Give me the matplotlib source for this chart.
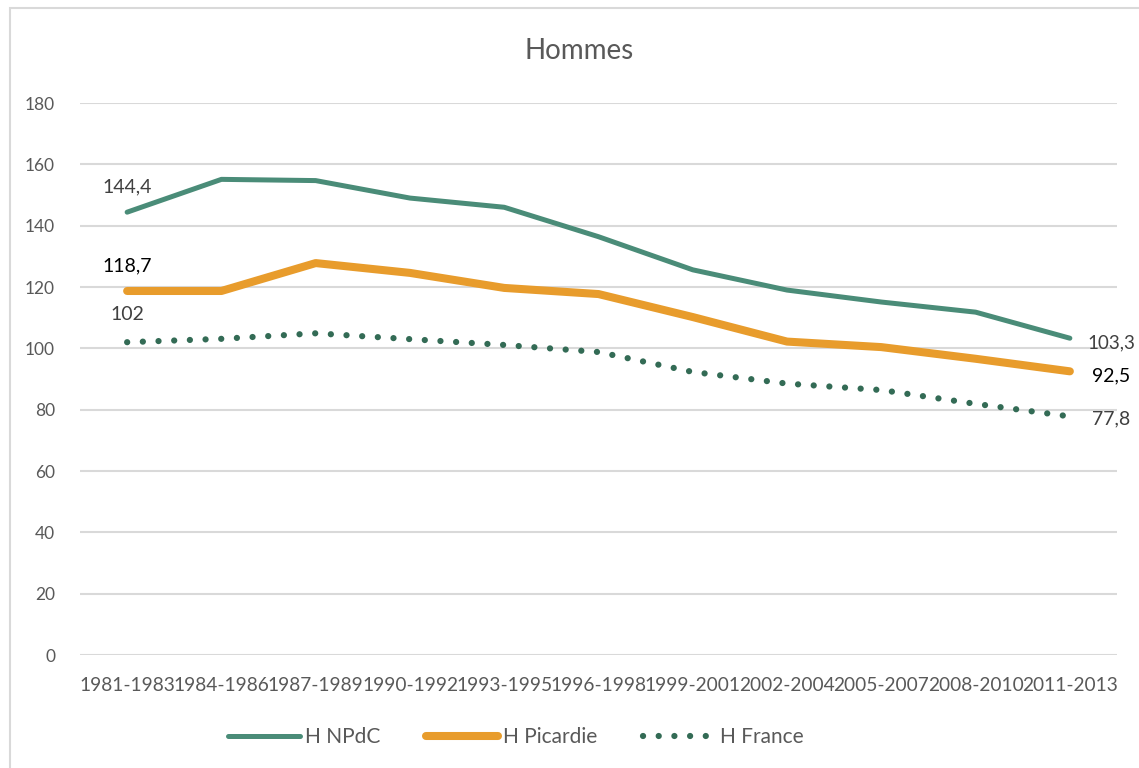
import matplotlib
matplotlib.use("Agg")
import matplotlib.pyplot as plt
from matplotlib.patches import Rectangle

# Data
periods = ["1981-1983", "1984-1986", "1987-1989", "1990-1992", "1993-1995",
           "1996-1998", "1999-2001", "2002-2004", "2005-2007", "2008-2010",
           "2011-2013"]
h_npdc = [144.4, 155.1, 154.7, 149.0, 146.0, 136.4, 125.6, 119.0, 115.1, 111.8, 103.3]
h_picardie = [118.7, 118.7, 127.8, 124.6, 119.7, 117.7, 110.2, 102.2, 100.4, 96.6, 92.5]
h_france = [102.0, 103.1, 104.9, 103.0, 101.1, 98.8, 92.3, 88.5, 86.4, 81.9, 77.8]
yticks = [0, 20, 40, 60, 80, 100, 120, 140, 160, 180]

c_npdc = "#4a8c78"
c_pic = "#e89c2c"
c_fr = "#336b55"
grey = "#595959"

plt.rcParams["font.family"] = ["Lato", "DejaVu Sans"]

fig = plt.figure(figsize=(11.39, 7.68), dpi=100)
ax = fig.add_axes([80 / 1139, 1 - 655 / 768, 1037 / 1139, 552 / 768])

x = list(range(len(periods)))
ax.plot(x, h_npdc, color=c_npdc, lw=3.6, solid_capstyle="round",
        solid_joinstyle="round", label="H NPdC")
ax.plot(x, h_picardie, color=c_pic, lw=5.8, solid_capstyle="round",
        solid_joinstyle="round", label="H Picardie")
ax.plot(x, h_france, color=c_fr, lw=4.5, linestyle=(0, (0.01, 2.5)),
        dash_capstyle="round", label="H France")

ax.set_xlim(-0.5, 10.5)
ax.set_ylim(0, 180)
ax.set_yticks(yticks)
ax.set_xticks(x)
ax.set_xticklabels(periods)
ax.grid(axis="y", color="#d9d9d9", lw=1.5)
ax.set_axisbelow(True)
for s in ax.spines.values():
    s.set_visible(False)
ax.tick_params(length=0, labelcolor=grey)
ax.tick_params(axis="y", pad=18, labelsize=12.5)
ax.tick_params(axis="x", pad=16, labelsize=13.8)

# data labels
def fmt(v):
    return ("%g" % v).replace(".", ",")

ax.annotate(fmt(h_npdc[0]), (0, h_npdc[0]), xytext=(0, 12), textcoords="offset points",
            ha="center", va="bottom", fontsize=14, color="#404040")
ax.annotate(fmt(h_picardie[0]), (0, h_picardie[0]), xytext=(0, 12), textcoords="offset points",
            ha="center", va="bottom", fontsize=14, color="black")
ax.annotate(fmt(h_france[0]), (0, h_france[0]), xytext=(0, 14), textcoords="offset points",
            ha="center", va="bottom", fontsize=14, color="#404040")
ax.annotate(fmt(h_npdc[-1]), (10, h_npdc[-1]), xytext=(13, -3), textcoords="offset points",
            ha="left", va="center", fontsize=13.5, color="#404040", annotation_clip=False)
ax.annotate(fmt(h_picardie[-1]), (10, h_picardie[-1]), xytext=(16, -3), textcoords="offset points",
            ha="left", va="center", fontsize=14, color="black", annotation_clip=False)
ax.annotate(fmt(h_france[-1]), (10, h_france[-1]), xytext=(16, -2), textcoords="offset points",
            ha="left", va="center", fontsize=14, color="#404040", annotation_clip=False)

fig.text(579 / 1139, 1 - 51 / 768, "Hommes", ha="center", va="center",
         fontsize=20, color=grey)

leg = fig.legend(loc="center", bbox_to_anchor=(516 / 1139, 1 - 737 / 768), ncol=3,
                 frameon=False, handlelength=3.45, columnspacing=2.2, handletextpad=0.25,
                 prop={"size": 15})
for t in leg.get_texts():
    t.set_color(grey)

# chart frame
fig.patches.append(Rectangle((10 / 1139, -0.05), 1.2, 1 - 8 / 768 + 0.05,
                             transform=fig.transFigure, fill=False,
                             edgecolor="#d9d9d9", lw=1.5))

fig.savefig("out.png", dpi=100)
